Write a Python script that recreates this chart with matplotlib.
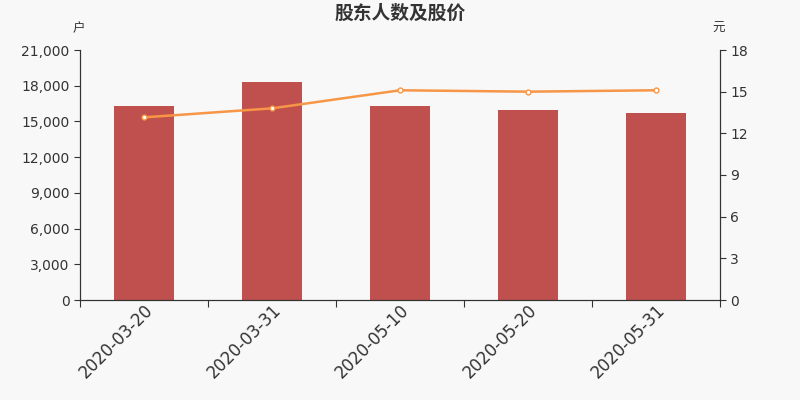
import numpy as np
import matplotlib.pyplot as plt
from matplotlib.ticker import FuncFormatter, FixedLocator

plt.rcParams['font.family'] = ['DejaVu Sans', 'Noto Sans CJK SC']

dates = ["2020-03-20", "2020-03-31", "2020-05-10", "2020-05-20", "2020-05-31"]
holders = [16300, 18300, 16300, 16000, 15700]
price = [13.15, 13.8, 15.1, 15.0, 15.1]

BG = "#f8f8f8"
TXT = "#333333"

fig = plt.figure(figsize=(8, 4), dpi=100, facecolor=BG)
ax = fig.add_axes([0.1, 0.25, 0.8, 0.625], facecolor=BG)
x = np.arange(len(dates))
ax.bar(x, holders, width=0.47, color="#c0504d", zorder=2)
ax.set_xlim(-0.5, len(dates) - 0.5)
ax.set_ylim(0, 21000)
ax.set_yticks(np.arange(0, 21001, 3000))
ax.yaxis.set_major_formatter(FuncFormatter(lambda v, p: f"{int(v):,}"))

# ticks on category boundaries, labels under bar centres
ax.xaxis.set_major_locator(FixedLocator(np.arange(-0.5, len(dates), 1)))
ax.set_xticklabels([])
ax.xaxis.set_minor_locator(FixedLocator(x))
ax.set_xticklabels(dates, minor=True, rotation=45, ha='right', rotation_mode='anchor',
                   fontsize=12, color=TXT)
ax.tick_params(axis='x', which='minor', length=0, pad=1)
ax.tick_params(axis='x', which='major', length=5, color=TXT)
ax.tick_params(axis='y', labelsize=10, colors=TXT, length=4)

ax2 = ax.twinx()
ax2.plot(x, price, color="#f79646", lw=1.8, marker='o', ms=3.5,
         mfc='white', mec="#f79646", mew=1, zorder=3)
ax2.set_ylim(0, 18)
ax2.set_yticks(np.arange(0, 19, 3))
ax2.tick_params(axis='y', labelsize=10, colors=TXT, length=4)

for a in (ax, ax2):
    a.spines['top'].set_visible(False)
    for s in ('left', 'right', 'bottom'):
        a.spines[s].set_color(TXT)

fig.text(0.5, 0.967, "股东人数及股价", ha='center', va='center', fontsize=13.5,
         fontweight='bold', color=TXT, family=['Noto Sans CJK SC'])
fig.text(0.098, 0.928, "户", ha='center', va='center', fontsize=9, color=TXT,
         family=['Noto Sans CJK SC'])
fig.text(0.898, 0.928, "元", ha='center', va='center', fontsize=9, color=TXT,
         family=['Noto Sans CJK SC'])

fig.savefig("out.png", dpi=100, facecolor=BG)
